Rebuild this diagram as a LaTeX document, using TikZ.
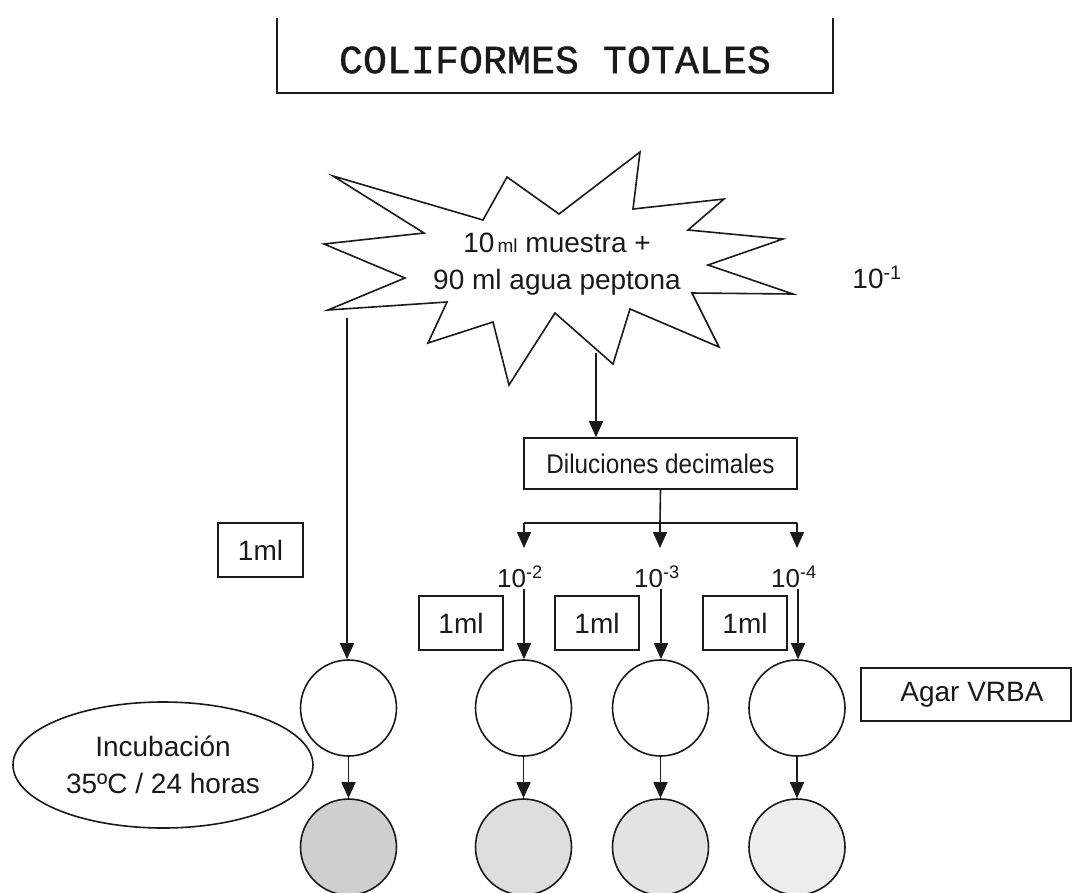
\documentclass[tikz,border=0pt]{standalone}
\usepackage{fontspec}
\setmainfont{Liberation Sans}
\newfontfamily\titlefont[FakeBold=0.9]{Liberation Mono}
\usetikzlibrary{arrows.meta,shapes.geometric}

\definecolor{ink}{HTML}{1A1A1A}
\definecolor{growA}{HTML}{CFCFCF}
\definecolor{growB}{HTML}{DDDDDD}
\definecolor{growC}{HTML}{E3E3E3}
\definecolor{growD}{HTML}{EDEDED}

\begin{document}
\begin{tikzpicture}[x=1pt,y=-1pt,
  line/.style={line width=1.6pt, draw=ink},
  arr/.style={line, -{Triangle[width=14pt,length=16pt]}},
  txt/.style={font=\fontsize{28}{37}\selectfont, text=ink, align=center},
  box/.style={line, txt, rectangle, inner sep=0pt},
  mlbox/.style={box, minimum width=85pt, minimum height=54pt},
  dish/.style={line, circle, minimum size=96pt, inner sep=0pt},
  expo/.style={font=\fontsize{26}{30}\selectfont, text=ink, inner sep=0pt},
]
\useasboundingbox (0,0) rectangle (1074,892);
\clip (0,0) rectangle (1074,892);
\fill[white] (0,0) rectangle (1074,892);

% title frame, open at the top
\draw[line] (277,18) -- (277,93) -- (833,93) -- (833,18);
\node[font=\titlefont\fontsize{40}{40}\selectfont, text=ink] (title) at (555,60) {COLIFORMES TOTALES};

% sample burst
\draw[line, fill=white] (333,176) -- (483,220) -- (507,177) -- (559,214) -- (640,152)
  -- (633,209) -- (724,199) -- (688,230) -- (783,239) -- (708,265) -- (793,294)
  -- (692,293) -- (719,347) -- (630,309) -- (613,364) -- (555,313) -- (509,385)
  -- (493,322) -- (428,343) -- (447,302) -- (328,310) -- (405,278) -- (324,244)
  -- (424,233) -- cycle;
\node[txt] (sample) at (557,264) {10{\fontsize{19}{19}\selectfont\,ml} muestra +\\90 ml agua peptona};
\node[expo, font=\fontsize{28}{30}\selectfont] (e1) at (877,277) {10\textsuperscript{-1}};

\coordinate (burstL) at (347,318);
\coordinate (burstB) at (596,353);

% decimal dilutions
\node[box, minimum width=273pt, minimum height=51pt] (dil) at (660.5,463.5)
  {\fontsize{27}{30}\selectfont\scalebox{0.9}[1]{Diluciones decimales}};
\draw[arr] (burstB) -- (burstB |- dil.north);

\coordinate (t2) at (524,523);
\coordinate (t3) at (660,523);
\coordinate (t4) at (797,523);
\coordinate (a2) at (524,548);
\coordinate (a3) at (660,548);
\coordinate (a4) at (797,548);
\draw[line] (dil.south) -- (t3);
\draw[line] (t2) -- (t4);
\draw[arr] (t2) -- (a2);
\draw[arr] (t3) -- (a3);
\draw[arr] (t4) -- (a4);

\node[expo] (e2) at (520,577) {10\textsuperscript{-2}};
\node[expo] (e3) at (657,577) {10\textsuperscript{-3}};
\node[expo] (e4) at (794,577) {10\textsuperscript{-4}};

% volume boxes
\node[mlbox] (v1) at (260.5,550) {1ml};
\node[mlbox, minimum width=84pt] (v2) at (461,623) {1ml};
\node[mlbox, minimum width=84pt] (v3) at (597,623) {1ml};
\node[mlbox, minimum width=84pt] (v4) at (745,623) {1ml};

% plates before incubation
\node[dish] (p1) at (348.5,708) {};
\node[dish] (p2) at (523.5,708) {};
\node[dish] (p3) at (660.5,708) {};
\node[dish] (p4) at (797,708) {};

% plates after incubation
\node[dish, fill=growA] (q1) at (348.5,847) {};
\node[dish, fill=growB] (q2) at (523.5,847) {};
\node[dish, fill=growC] (q3) at (660.5,847) {};
\node[dish, fill=growD] (q4) at (797,847) {};

\coordinate (s2) at (524,589);
\coordinate (s3) at (661,589);
\coordinate (s4) at (798,589);
\draw[arr] (burstL) -- (burstL |- p1.north);
\draw[arr] (s2) -- (s2 |- p2.north);
\draw[arr] (s3) -- (s3 |- p3.north);
\draw[arr] (s4) -- (s4 |- p4.north);

\draw[arr] (p1.south) -- (q1.north);
\draw[arr] (p2.south) -- (q2.north);
\draw[arr] (p3.south) -- (q3.north);
\draw[arr] (p4.south) -- (q4.north);

\node[box, minimum width=210pt, minimum height=53pt] (agar) at (966,694.5) {\hspace{12pt}Agar VRBA};

\node[line, txt, ellipse, minimum width=300pt, minimum height=126pt, inner sep=0pt]
  (incub) at (163,765) {Incubación\\35ºC / 24 horas};
\end{tikzpicture}
\end{document}
